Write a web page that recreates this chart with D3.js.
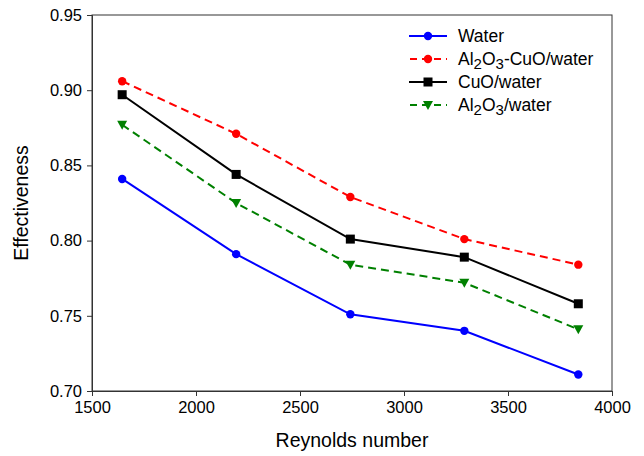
<!DOCTYPE html>
<html>
<head>
<meta charset="utf-8">
<script src="https://cdn.jsdelivr.net/npm/d3@7"></script>
<style>
  body { margin: 0; background: #fff; }
  text { font-family: "Liberation Sans", Arial, sans-serif; fill: #000; }
</style>
</head>
<body>
<svg id="chart" width="644" height="456"></svg>
<script>
// data
var reynolds = [1645, 2193, 2742, 3290, 3838];
var water = [0.841, 0.791, 0.751, 0.740, 0.711];
var hybrid = [0.906, 0.871, 0.829, 0.801, 0.784];
var cuo = [0.897, 0.844, 0.801, 0.789, 0.758];
var alumina = [0.877, 0.825, 0.784, 0.772, 0.741];
var xTicks = [1500, 2000, 2500, 3000, 3500, 4000];
var yTicks = [0.70, 0.75, 0.80, 0.85, 0.90, 0.95];

var series = [
    {name: "Water", values: water, col: "#0000ff", dash: null, sym: "circle"},
    {name: "Al2O3-CuO/water", values: hybrid, col: "#ff0000", dash: "8 5", sym: "circle"},
    {name: "CuO/water", values: cuo, col: "#000000", dash: null, sym: "square"},
    {name: "Al2O3/water", values: alumina, col: "#008000", dash: "8 5", sym: "triangle"}
];

var margin = {top: 15, right: 32, bottom: 65, left: 92};
var width = 644 - margin.left - margin.right;
var height = 456 - margin.top - margin.bottom;

var svg = d3.select("#chart");
var g = svg.append("g").attr("transform", "translate(" + margin.left + "," + margin.top + ")");

var x = d3.scaleLinear().domain([1500, 4000]).range([0, width]);
var y = d3.scaleLinear().domain([0.70, 0.95]).range([height, 0]);

// frame
g.append("rect")
    .attr("width", width).attr("height", height)
    .attr("fill", "none").attr("stroke", "#333").attr("stroke-width", 1);

var xAxis = g.append("g").attr("transform", "translate(0," + height + ")")
    .call(d3.axisBottom(x).tickValues(xTicks).tickSize(5).tickFormat(d3.format("d")));
var yAxis = g.append("g")
    .call(d3.axisLeft(y).tickValues(yTicks).tickSize(5).tickFormat(d3.format(".2f")));

[xAxis, yAxis].forEach(function(a) {
    a.select(".domain").attr("stroke", "#333");
    a.selectAll(".tick line").attr("stroke", "#333");
    a.selectAll("text").style("font-size", "16.5px").style("font-family", "Liberation Sans, Arial, sans-serif");
});
xAxis.selectAll("text").attr("dy", "0.85em");
yAxis.selectAll("text").attr("dx", "-2px");

g.append("text")
    .attr("x", width / 2).attr("y", height + 56)
    .attr("text-anchor", "middle").style("font-size", "19.5px")
    .text("Reynolds number");
g.append("text")
    .attr("transform", "rotate(-90)")
    .attr("x", -height / 2).attr("y", -64)
    .attr("text-anchor", "middle").style("font-size", "19.5px")
    .text("Effectiveness");

var line = d3.line().x(function(d, i) { return x(reynolds[i]); }).y(function(d) { return y(d); });

function marker(sel, s) {
    if (s.sym == "circle") {
        sel.append("circle").attr("r", 4.2).attr("fill", s.col);
    } else if (s.sym == "square") {
        sel.append("rect").attr("x", -4.5).attr("y", -4.5).attr("width", 9).attr("height", 9).attr("fill", s.col);
    } else {
        sel.append("path").attr("d", "M-5,-4L5,-4L0,5Z").attr("fill", s.col);
    }
}

series.forEach(function(s) {
    g.append("path")
        .datum(s.values)
        .attr("d", line)
        .attr("fill", "none")
        .attr("stroke", s.col)
        .attr("stroke-width", 2)
        .attr("stroke-dasharray", s.dash);
    s.values.forEach(function(v, i) {
        var m = g.append("g").attr("transform", "translate(" + x(reynolds[i]) + "," + y(v) + ")");
        marker(m, s);
    });
});

// legend
var legend = svg.append("g").attr("transform", "translate(409,36)");
series.forEach(function(s, i) {
    var row = legend.append("g").attr("transform", "translate(0," + (i * 23) + ")");
    row.append("line").attr("x1", 0).attr("x2", 38)
        .attr("stroke", s.col).attr("stroke-width", 2)
        .attr("stroke-dasharray", s.dash ? "7 5" : null)
        .attr("stroke-dashoffset", s.dash ? -1 : null);
    var m = row.append("g").attr("transform", "translate(19,0)");
    marker(m, s);
    var t = row.append("text").attr("x", 49).attr("y", 6).style("font-size", "17.5px");
    // subscripts for the digits in the formulas
    var parts = s.name.split(/(\d)/);
    var shift = 0;
    parts.forEach(function(p) {
        if (!p) return;
        if (/^\d$/.test(p)) {
            t.append("tspan").attr("dy", 4 - shift).style("font-size", "15px").text(p);
            shift = 4;
        } else {
            t.append("tspan").attr("dy", -shift).text(p);
            shift = 0;
        }
    });
});
</script>
</body>
</html>
